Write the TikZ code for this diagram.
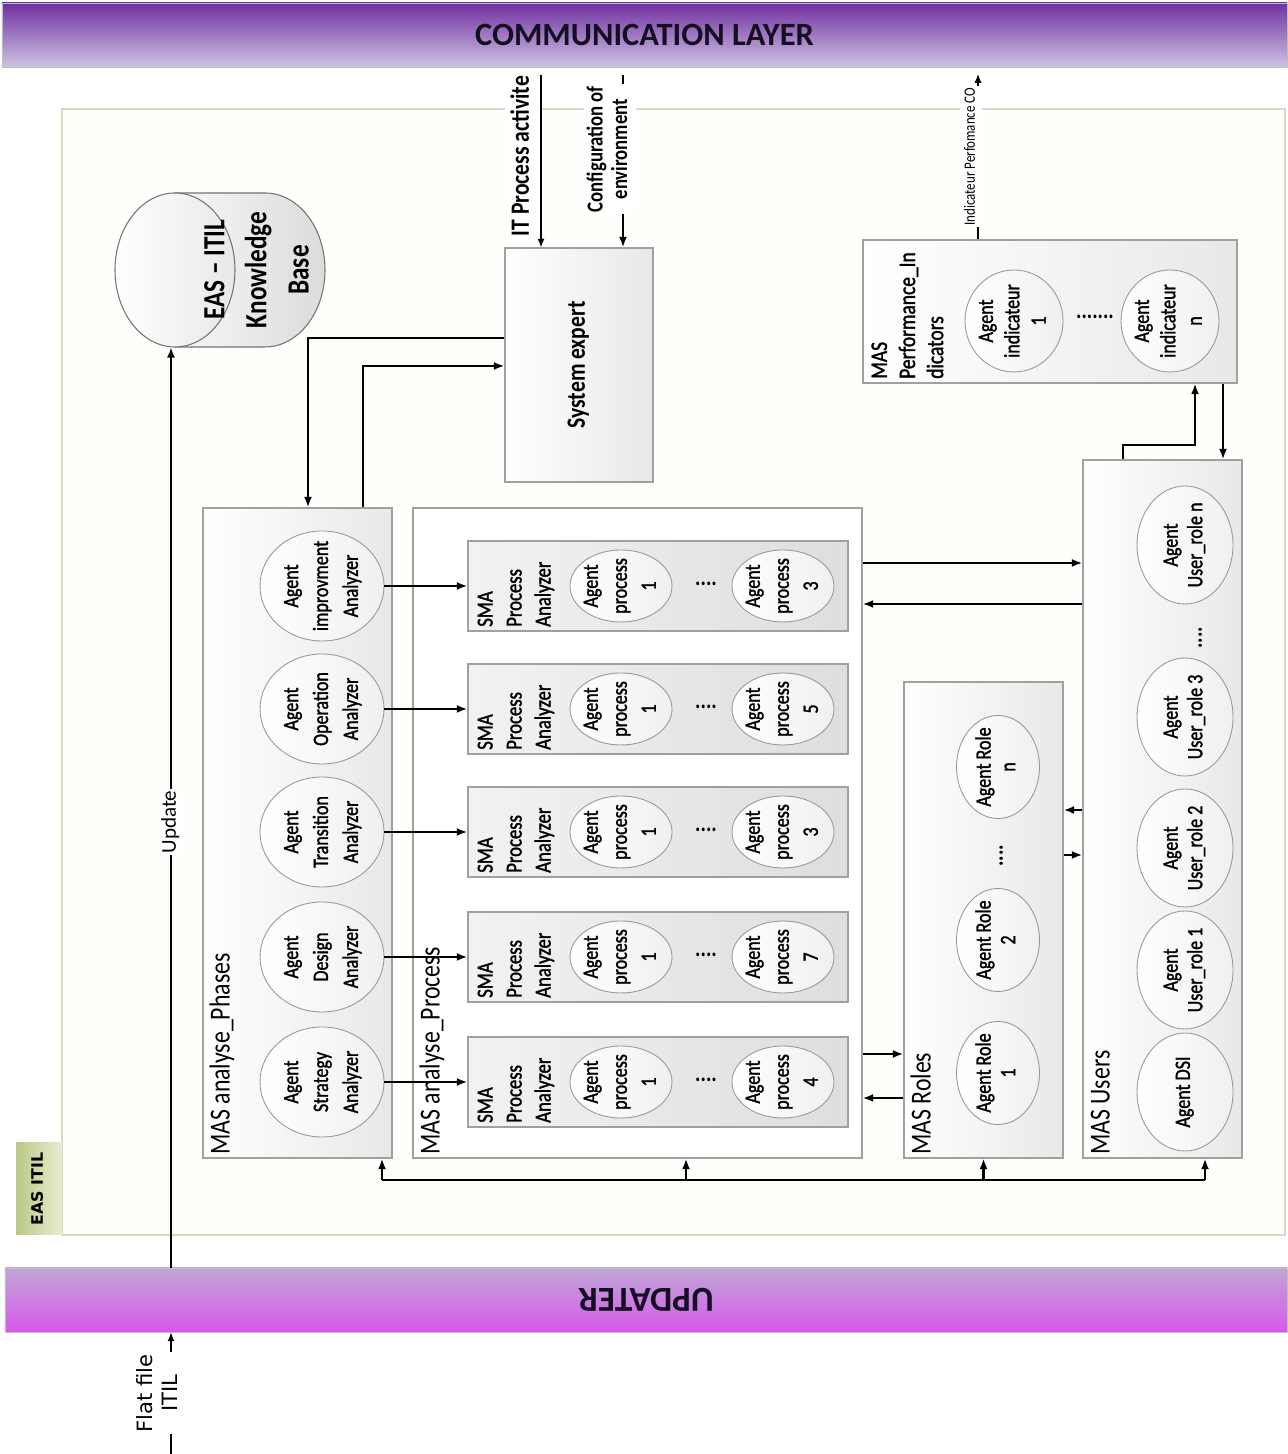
\documentclass[tikz,border=0pt]{standalone}
\usepackage{fontspec}
\usepackage{graphicx}
\setmainfont{Carlito}[FakeStretch=0.82]
\newfontfamily\bandfont{Carlito}
\newfontfamily\agentfont{Carlito}[FakeStretch=0.82, FakeBold=1.4]
\newfontfamily\verdfont{DejaVu Sans}
\usetikzlibrary{arrows.meta,calc,positioning,shapes.geometric}

\definecolor{commtop}{RGB}{112,48,160}
\definecolor{commbot}{RGB}{206,194,226}
\definecolor{updtop}{RGB}{192,166,214}
\definecolor{updbot}{RGB}{216,88,236}
\definecolor{framecol}{RGB}{214,218,196}
\definecolor{framefill}{RGB}{254,254,251}
\definecolor{tabdark}{RGB}{186,200,135}
\definecolor{tablight}{RGB}{232,238,208}
\definecolor{boxline}{RGB}{160,160,160}
\definecolor{titletext}{RGB}{20,15,35}

% rotated texts
\newcommand{\vlab}[1]{\makebox[0pt]{\raisebox{-0.5\height}[0pt][0pt]{\rotatebox{90}{\begin{tabular}{@{}c@{}}#1\end{tabular}}}}}
\newcommand{\vtext}[1]{\rotatebox{90}{\begin{tabular}{@{}c@{}}#1\end{tabular}}}
\newcommand{\vtitle}[1]{\rotatebox{90}{\begin{tabular}{@{}l@{}}#1\end{tabular}}}

\tikzset{
  band/.style={draw=black!25, line width=0.5pt, minimum width=25.64cm, minimum height=1.28cm, inner sep=0pt},
  masbox/.style={draw=boxline, line width=0.6pt, left color=white, right color=black!9, inner sep=0pt},
  smabox/.style={draw=boxline, line width=0.6pt, left color=black!5, right color=black!13, inner sep=0pt, minimum width=7.60cm, minimum height=1.80cm},
  agent/.style={ellipse, draw=black!40, line width=0.5pt, left color=white, right color=black!6, inner sep=0pt},
  phaseagent/.style={agent, minimum width=2.48cm, minimum height=2.20cm, font=\agentfont\fontsize{12.5}{17}\selectfont},
  procagent/.style={agent, minimum width=2.04cm, minimum height=1.44cm, font=\agentfont\fontsize{12.5}{16.5}\selectfont},
  indagent/.style={agent, minimum width=1.96cm, minimum height=2.04cm, font=\agentfont\fontsize{12.5}{15}\selectfont},
  roleagent/.style={agent, minimum width=1.66cm, minimum height=2.06cm, font=\agentfont\fontsize{12.5}{14}\selectfont},
  useragent/.style={agent, minimum width=1.92cm, minimum height=2.36cm, font=\agentfont\fontsize{12.5}{14}\selectfont},
  mastitle/.style={anchor=south west, inner sep=2pt, font=\fontsize{16.5}{19}\selectfont},
  smatitle/.style={anchor=south west, inner sep=2.5pt, font=\agentfont\fontsize{13}{16.5}\selectfont},
  ellip/.style={inner sep=0pt, font=\bfseries\fontsize{14}{14}\selectfont},
  conn/.style={line width=1.2pt, -{Latex[length=6pt,width=4.5pt]}},
  thinconn/.style={line width=0.7pt, -{Latex[length=5pt,width=4pt]}},
  bus/.style={line width=1.2pt},
}

\begin{document}
\begin{tikzpicture}
% Fixing the page
\useasboundingbox (0,0) rectangle (25.740000,29.080000);%

% Drawing frame EAS ITIL
\draw [draw=framecol, fill=framefill, line width=0.8pt] (1.240000,4.380000) rectangle (25.700000,26.900000);%

% Drawing tab EAS ITIL
\node [left color=tabdark, right color=tablight, minimum width=0.92cm, minimum height=1.84cm, inner sep=0pt, font=\verdfont\bfseries\fontsize{9}{11}\selectfont] (eastab) at (0.780000,5.300000) {\vlab{EAS ITIL}};%

% Drawing band communication layer
\node [band, top color=commtop, bottom color=commbot, minimum width=25.70cm, text=titletext, font=\bandfont\bfseries\fontsize{18.5}{20}\selectfont] (comm) at (12.890000,28.380000) {COMMUNICATION LAYER};%

% Drawing band updater
\node [band, top color=updtop, bottom color=updbot, text=titletext, font=\bandfont\bfseries\fontsize{20}{22}\selectfont] (updater) at (12.920000,3.080000) {\rotatebox{180}{UPDATER}};%

% Drawing knowledge base
\draw [draw=black!55, line width=0.6pt, left color=black!3, right color=black!14] (3.500000,25.220000) -- (5.300000,25.220000) arc [start angle=90, end angle=-90, x radius=1.20cm, y radius=1.54cm] -- (3.500000,22.140000) -- cycle;%
\draw [draw=black!55, line width=0.6pt, left color=white, right color=black!9] (3.500000,23.680000) ellipse [x radius=1.20cm, y radius=1.54cm];%
\node [font=\bfseries\fontsize{17.5}{24}\selectfont] (kb) at (5.160000,23.680000) {\vtext{EAS – ITIL\\Knowledge\\Base}};%
\coordinate (kbbase) at (3.420000,22.140000);%

% Drawing box system expert
\node [masbox, minimum width=2.96cm, minimum height=4.68cm, font=\bfseries\fontsize{15}{17}\selectfont] (sysexp) at (11.580000,21.780000) {\vlab{System expert}};%

% Drawing box MAS Performance_Indicators
\node [masbox, minimum width=7.48cm, minimum height=2.86cm] (perf) at (21.000000,22.850000) {};%
\node [smatitle, font=\agentfont\fontsize{13.5}{16}\selectfont] (perftitle) at (perf.south west) {\vtitle{MAS\\Performance\_In\\dicators}};%
\node [indagent] (ind1) at (20.280000,22.660000) {\vlab{Agent\\indicateur\\1}};%
\node [indagent] (indn) at (23.400000,22.660000) {\vlab{Agent\\indicateur\\n}};%
\node [ellip] (inddots) at (21.900000,22.740000) {.......};%

% Drawing box MAS analyse_Phases
\node [masbox, minimum width=3.78cm, minimum height=13.00cm] (phases) at (5.950000,12.420000) {};%
\node [mastitle] (phasestitle) at (phases.south west) {\vtitle{MAS analyse\_Phases}};%
\node [phaseagent] (improv) at (6.440000,17.360000) {\vlab{Agent\\improvment\\Analyzer}};%
\node [phaseagent] (operat) at (6.440000,14.900000) {\vlab{Agent\\Operation\\Analyzer}};%
\node [phaseagent] (transi) at (6.440000,12.440000) {\vlab{Agent\\Transition\\Analyzer}};%
\node [phaseagent] (design) at (6.440000,9.940000) {\vlab{Agent\\Design\\Analyzer}};%
\node [phaseagent] (strat) at (6.440000,7.440000) {\vlab{Agent\\Strategy\\Analyzer}};%

% Drawing box MAS analyse_Process
\node [draw=boxline, line width=0.6pt, fill=white, minimum width=8.98cm, minimum height=13.00cm, inner sep=0pt] (proc) at (12.750000,12.420000) {};%
\node [mastitle] (proctitle) at (proc.south west) {\vtitle{MAS analyse\_Process}};%

% Drawing box SMA 1
\node [smabox] (sma1) at (13.160000,17.360000) {};%
\node [smatitle] (sma1title) at (sma1.south west) {\vtitle{SMA\\Process\\Analyzer}};%
\node [procagent] (pa11) at (12.420000,17.360000) {\vlab{Agent\\process\\1}};%
\node [procagent] (pa1n) at (15.660000,17.360000) {\vlab{Agent\\process\\3}};%
\node [ellip] (dots1) at (14.120000,17.400000) {....};%

% Drawing box SMA 2
\node [smabox] (sma2) at (13.160000,14.900000) {};%
\node [smatitle] (sma2title) at (sma2.south west) {\vtitle{SMA\\Process\\Analyzer}};%
\node [procagent] (pa21) at (12.420000,14.900000) {\vlab{Agent\\process\\1}};%
\node [procagent] (pa2n) at (15.660000,14.900000) {\vlab{Agent\\process\\5}};%
\node [ellip] (dots2) at (14.120000,14.940000) {....};%

% Drawing box SMA 3
\node [smabox] (sma3) at (13.160000,12.440000) {};%
\node [smatitle] (sma3title) at (sma3.south west) {\vtitle{SMA\\Process\\Analyzer}};%
\node [procagent] (pa31) at (12.420000,12.440000) {\vlab{Agent\\process\\1}};%
\node [procagent] (pa3n) at (15.660000,12.440000) {\vlab{Agent\\process\\3}};%
\node [ellip] (dots3) at (14.120000,12.480000) {....};%

% Drawing box SMA 4
\node [smabox] (sma4) at (13.160000,9.940000) {};%
\node [smatitle] (sma4title) at (sma4.south west) {\vtitle{SMA\\Process\\Analyzer}};%
\node [procagent] (pa41) at (12.420000,9.940000) {\vlab{Agent\\process\\1}};%
\node [procagent] (pa4n) at (15.660000,9.940000) {\vlab{Agent\\process\\7}};%
\node [ellip] (dots4) at (14.120000,9.980000) {....};%

% Drawing box SMA 5
\node [smabox] (sma5) at (13.160000,7.440000) {};%
\node [smatitle] (sma5title) at (sma5.south west) {\vtitle{SMA\\Process\\Analyzer}};%
\node [procagent] (pa51) at (12.420000,7.440000) {\vlab{Agent\\process\\1}};%
\node [procagent] (pa5n) at (15.660000,7.440000) {\vlab{Agent\\process\\4}};%
\node [ellip] (dots5) at (14.120000,7.480000) {....};%

% Drawing box MAS Roles
\node [masbox, minimum width=3.18cm, minimum height=9.52cm] (roles) at (19.670000,10.680000) {};%
\node [mastitle] (rolestitle) at (roles.south west) {\vtitle{MAS Roles}};%
\node [roleagent] (role1) at (19.960000,7.620000) {\vlab{Agent Role\\1}};%
\node [roleagent] (role2) at (19.960000,10.280000) {\vlab{Agent Role\\2}};%
\node [roleagent] (rolen) at (19.960000,13.740000) {\vlab{Agent Role\\n}};%
\node [ellip] (roledots) at (19.960000,11.960000) {\vlab{....}};%

% Drawing box MAS Users
\node [masbox, minimum width=3.18cm, minimum height=13.96cm] (users) at (23.250000,12.900000) {};%
\node [mastitle] (userstitle) at (users.south west) {\vtitle{MAS Users}};%
\node [useragent] (dsi) at (23.700000,7.240000) {\vlab{Agent DSI}};%
\node [useragent] (urole1) at (23.700000,9.680000) {\vlab{Agent\\User\_role 1}};%
\node [useragent] (urole2) at (23.700000,12.120000) {\vlab{Agent\\User\_role 2}};%
\node [useragent] (urole3) at (23.700000,14.740000) {\vlab{Agent\\User\_role 3}};%
\node [useragent] (urolen) at (23.700000,18.180000) {\vlab{Agent\\User\_role n}};%
\node [ellip] (userdots) at (23.940000,16.320000) {\vlab{....}};%

% Drawing arrow IT Process activite
\coordinate (itin) at (10.820000,27.580000);%
\draw [thinconn] (itin) -- (itin |- sysexp.north) node [pos=0.47, anchor=east, fill=white, inner sep=1.5pt, font=\bfseries\fontsize{15}{17}\selectfont] (itlab) {\vtext{IT Process activite}};%

% Drawing arrow configuration of environment
\coordinate (cfgin) at (12.460000,27.580000);%
\draw [conn] (cfgin) -- (cfgin |- sysexp.north) node [pos=0.43, xshift=-0.26cm, fill=white, inner sep=1pt, font=\bfseries\fontsize{13}{14}\selectfont] (cfglab) {\vtext{Configuration of\\environment}};%

% Drawing arrow indicateur perfomance
\coordinate (indout) at (19.560000,27.600000);%
\draw [thinconn] (perf.north -| indout) -- (indout) node [pos=0.5, xshift=-0.14cm, fill=white, inner sep=0.8pt, font=\fontsize{9}{11}\selectfont] (indlab) {\vtext{Indicateur Perfomance CO}};%

% Drawing arrow update
\draw [conn] (updater.north -| kbbase) -- (kbbase) node [pos=0.484, fill=white, inner sep=1pt, font=\bandfont\fontsize{12}{14}\selectfont] (updlab) {\vtext{Update}};%

% Drawing arrow flat file
\coordinate (flatin) at (3.420000,0.000000);%
\draw [thinconn] (flatin) -- (updater.south -| flatin) node [pos=0.5, xshift=-0.22cm, fill=white, inner sep=1pt, font=\verdfont\fontsize{12}{14}\selectfont] (flatlab) {\vtext{Flat file\\ITIL}};%

% Drawing arrows system expert phases
\draw [conn] (sysexp.west |- 0,22.320000) -- (6.160000,22.320000) -- (phases.north -| 6.160000,0);%
\draw [conn] (phases.north -| 7.260000,0) -- (7.260000,21.760000) -- (sysexp.west |- 0,21.760000);%

% Drawing arrows phases SMA
\draw [conn] (improv.east) -- (sma1.west);%
\draw [conn] (operat.east) -- (sma2.west);%
\draw [conn] (transi.east) -- (sma3.west);%
\draw [conn] (design.east) -- (sma4.west);%
\draw [conn] (strat.east) -- (sma5.west);%

% Drawing arrows process users
\draw [conn] (proc.east |- 0,17.820000) -- (users.west |- 0,17.820000);%
\draw [conn] (users.west |- 0,17.000000) -- (proc.east |- 0,17.000000);%

% Drawing arrows process roles
\draw [conn] (proc.east |- 0,8.000000) -- (roles.west |- 0,8.000000);%
\draw [conn] (roles.west |- 0,7.120000) -- (proc.east |- 0,7.120000);%

% Drawing arrows roles users
\draw [conn] (users.west |- 0,12.880000) -- (roles.east |- 0,12.880000);%
\draw [conn] (roles.east |- 0,11.980000) -- (users.west |- 0,11.980000);%

% Drawing arrows users performance
\draw [conn] (users.north -| 22.460000,0) -- (22.460000,20.180000) -- (23.900000,20.180000) -- (perf.south -| 23.900000,0);%
\draw [conn] (perf.south -| 24.460000,0) -- (users.north -| 24.460000,0);%

% Drawing bus
\coordinate (busw) at (7.640000,5.480000);%
\coordinate (busm) at (13.720000,5.480000);%
\coordinate (buse) at (24.100000,5.480000);%
\draw [bus] (busw) -- (buse);%
\draw [conn] (busw) -- (phases.south -| busw);%
\draw [conn] (busm) -- (proc.south -| busm);%
\draw [conn] (roles.south |- busw) -- (roles.south);%
\draw [conn] (buse) -- (users.south -| buse);%
\end{tikzpicture}
\end{document}
